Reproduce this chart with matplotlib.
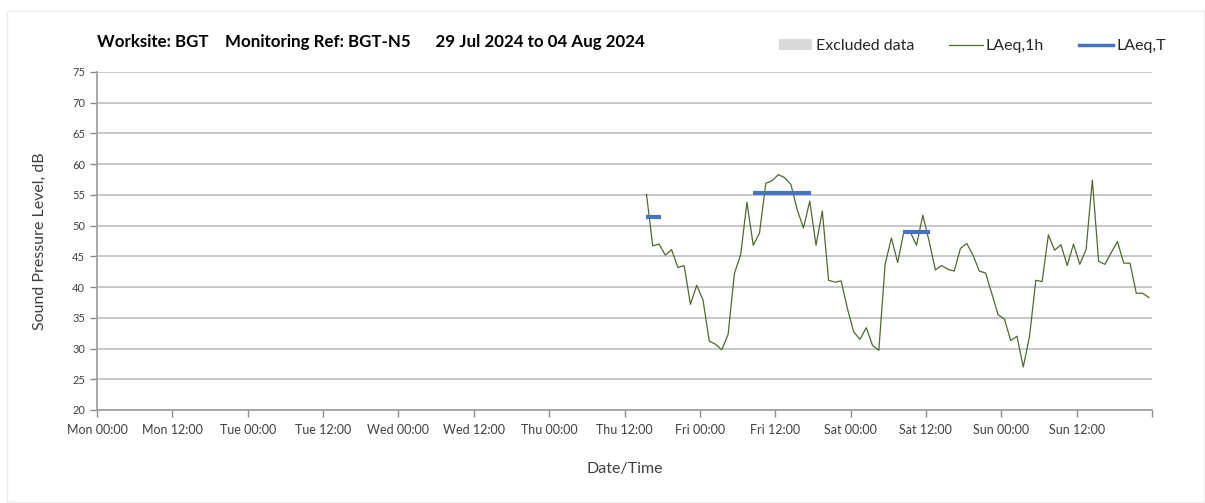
import matplotlib
matplotlib.use('Agg')
import matplotlib.pyplot as plt
import matplotlib.dates as mdates
from matplotlib.patches import Patch, Rectangle
from matplotlib.lines import Line2D
import pandas as pd

plt.rcParams['font.family'] = ['Lato', 'DejaVu Sans']

# hourly LAeq,1h readings, first one at Thu 01 Aug 15:30
start = '2024-08-01 15:30'
laeq_1h = [
    55.1, 46.7, 47.0, 45.2, 46.1, 43.2, 43.5, 37.2, 40.3, 37.9, 31.2, 30.7, 29.8, 32.3,
    42.2, 45.3, 53.8, 46.8, 48.8, 56.9, 57.3,
    58.3, 57.8, 56.7, 52.6, 49.6, 54.0, 46.8, 52.4, 41.1, 40.8, 41.0, 36.5, 32.7, 31.5,
    33.4, 30.5, 29.7, 43.7, 48.0, 44.0, 49.1,
    49.0, 46.8, 51.7, 47.5, 42.8, 43.5, 42.9, 42.6, 46.3, 47.1, 45.2, 42.6, 42.3, 38.9,
    35.5, 34.8, 31.3, 32.0, 27.0, 32.0, 41.1,
    40.9, 48.5, 46.0, 46.9, 43.5, 47.0, 43.7, 46.1, 57.4, 44.2, 43.7, 45.6, 47.4, 43.9,
    43.9, 39.0, 39.0, 38.3,
]

# LAeq,T periods: start, end, level
period_start = ['2024-08-01 15:24', '2024-08-02 08:24', '2024-08-03 08:24']
period_end = ['2024-08-01 17:48', '2024-08-02 17:42', '2024-08-03 12:36']
period_level = [51.4, 55.3, 49.0]

title = 'Worksite: BGT    Monitoring Ref: BGT-N5      29 Jul 2024 to 04 Aug 2024'

times = pd.date_range(start, periods=len(laeq_1h), freq='h')

fig = plt.figure(figsize=(12.05, 5.03), dpi=100)
ax = fig.add_axes([97 / 1205, 1 - 410 / 503, (1152 - 97) / 1205, (410 - 72) / 503])

# faint outer frame
fig.patches.append(Rectangle((7 / 1205, 0.002), 1 - 8 / 1205, 1 - 12 / 503,
                             transform=fig.transFigure, fill=False,
                             edgecolor='#ececec', linewidth=1))

ax.plot(times, laeq_1h, color='#4f6a2e', linewidth=0.9, zorder=3)
for s, e, lvl in zip(period_start, period_end, period_level):
    ax.plot([pd.Timestamp(s), pd.Timestamp(e)], [lvl, lvl], color='#4472c4',
            linewidth=3, solid_capstyle='butt', zorder=4)

ax.set_xlim(pd.Timestamp('2024-07-29 00:00'), pd.Timestamp('2024-08-05 00:00'))
ax.set_ylim(20, 75)
ax.set_yticks(range(20, 80, 5))

ax.xaxis.set_major_locator(mdates.HourLocator(byhour=[0, 12]))
ax.xaxis.set_major_formatter(mdates.DateFormatter('%a %H:%M'))
ax.xaxis.set_minor_locator(mdates.HourLocator(byhour=[0]))

ax.tick_params(axis='both', colors='#8c8c8c', labelcolor='#404040',
               length=5, width=1)
ax.tick_params(axis='x', pad=5, labelsize=9)
ax.tick_params(axis='y', labelsize=8)
labels = ax.get_xticklabels()
labels[-1].set_visible(False)

ax.grid(axis='y', color='#c4c4c4', linewidth=1.3)
ax.grid(axis='x', which='minor', color='#dedede', linewidth=1)
ax.set_axisbelow(True)

for side in ['top', 'right']:
    ax.spines[side].set_visible(False)
for side in ['left', 'bottom']:
    ax.spines[side].set_color('#a0a0a0')
    ax.spines[side].set_linewidth(1.3)

ax.set_ylabel('Sound Pressure Level, dB', fontsize=11.5, color='#404040', labelpad=18)
ax.set_xlabel('Date/Time', fontsize=11.5, color='#404040', labelpad=19)

fig.text(97 / 1205, 1 - 42 / 503, title, fontsize=12.2, fontweight='bold',
         color='black', va='center', ha='left')

handles = [Patch(facecolor='#d9d9d9', edgecolor='none'),
           Line2D([], [], color='#4f6a2e', linewidth=0.9),
           Line2D([], [], color='#4472c4', linewidth=2.5)]
fig.legend(handles, ['Excluded data', 'LAeq,1h', 'LAeq,T'], ncol=3, frameon=False,
           loc='center right', bbox_to_anchor=(1180 / 1205, 1 - 46 / 503),
           fontsize=11.5, handlelength=2.1, handletextpad=0.2, columnspacing=2.2,
           labelcolor='#262626')

fig.savefig('out.png', dpi=100, facecolor='white')
